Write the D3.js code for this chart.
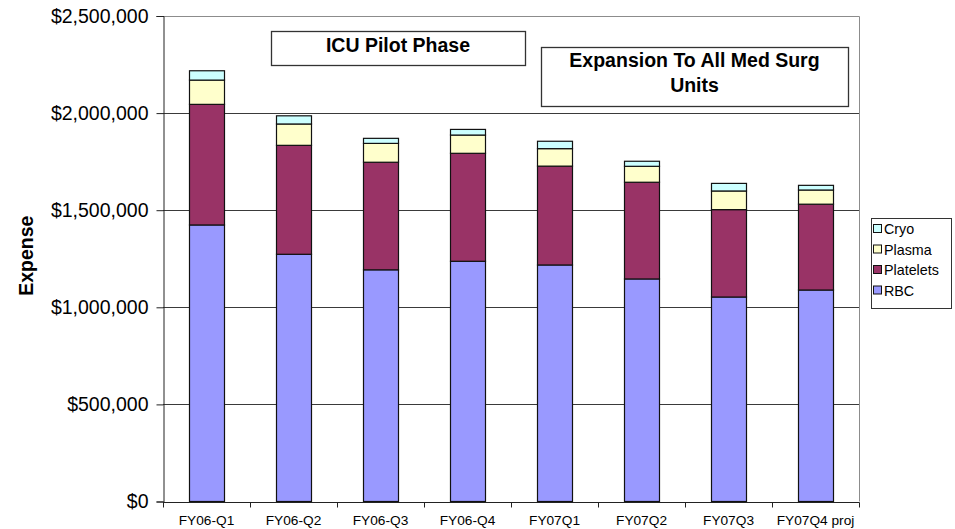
<!DOCTYPE html>
<html>
<head>
<meta charset="utf-8">
<script src="https://cdn.jsdelivr.net/npm/d3@7"></script>
<style>
  html, body { margin: 0; padding: 0; background: #fff; }
  svg { display: block; font-family: Arial, "Liberation Sans", sans-serif; }
</style>
</head>
<body>
<svg id="chart" width="955" height="529"></svg>
<script>
// Quarterly blood product expense, stacked by product type
const quarters = ["FY06-Q1", "FY06-Q2", "FY06-Q3", "FY06-Q4", "FY07Q1", "FY07Q2", "FY07Q3", "FY07Q4 proj"];
const rbc       = [1424000, 1273000, 1193000, 1237000, 1218000, 1146000, 1053000, 1089000];
const platelets = [ 621000,  561000,  554000,  556000,  509000,  498000,  450000,  442000];
const plasma    = [ 125000,  110000,   97000,   94000,   90000,   82000,   96000,   73000];
const cryo      = [  48000,   42000,   26000,   29000,   38000,   26000,   39000,   24000];
const seriesNames = ["RBC", "Platelets", "Plasma", "Cryo"];
const seriesColors = ["#9999FF", "#993366", "#FFFFCC", "#CCFFFF"];
const yTicks = [0, 500000, 1000000, 1500000, 2000000, 2500000];

const svg = d3.select("#chart");
const plot = { left: 163, right: 859, top: 16, bottom: 501.5 };

const x = d3.scaleBand()
  .domain(quarters)
  .range([plot.left, plot.right])
  .paddingInner(0.6)
  .paddingOuter(0.3);

const y = d3.scaleLinear()
  .domain([0, 2500000])
  .range([plot.bottom, plot.top]);

// Horizontal gridlines
svg.append("g")
  .selectAll("line")
  .data(yTicks.slice(1, -1))
  .join("line")
  .attr("x1", plot.left).attr("x2", plot.right)
  .attr("y1", d => Math.round(y(d)) + 0.5).attr("y2", d => Math.round(y(d)) + 0.5)
  .attr("stroke", "#3a3a3a").attr("stroke-width", 1);

// Plot-area frame (top and right edges)
svg.append("path")
  .attr("d", `M${plot.left},${Math.round(plot.top) + 0.5}H${plot.right + 0.5}V${plot.bottom}`)
  .attr("fill", "none").attr("stroke", "#8c8c8c").attr("stroke-width", 1);

// Stack the series
const rows = quarters.map((q, i) => ({
  quarter: q, RBC: rbc[i], Platelets: platelets[i], Plasma: plasma[i], Cryo: cryo[i]
}));
const stacked = d3.stack().keys(seriesNames)(rows);

svg.append("g")
  .selectAll("g")
  .data(stacked)
  .join("g")
  .attr("fill", (d, i) => seriesColors[i])
  .selectAll("rect")
  .data(d => d)
  .join("rect")
  .attr("x", d => Math.round(x(d.data.quarter)) + 0.5)
  .attr("width", Math.round(x.bandwidth()))
  .attr("y", d => y(d[1]))
  .attr("height", d => y(d[0]) - y(d[1]))
  .attr("stroke", "#111").attr("stroke-width", 1.2);

// Y axis
const yAxis = d3.axisLeft(y)
  .tickValues(yTicks)
  .tickFormat(d3.format("$,"))
  .tickSize(7)
  .tickPadding(8);
const gy = svg.append("g")
  .attr("transform", `translate(${plot.left + 0.5},0)`)
  .call(yAxis);
gy.select(".domain").attr("stroke", "#222");
gy.selectAll(".tick line").attr("stroke", "#222");
gy.selectAll(".tick text")
  .attr("fill", "#000")
  .style("font-size", "19.5px");

// X axis with ticks on category boundaries
const xAxis = d3.axisBottom(x).tickSize(0).tickPadding(13);
const gx = svg.append("g")
  .attr("transform", `translate(0,${Math.round(plot.bottom) + 0.5})`)
  .call(xAxis);
gx.select(".domain").remove();
gx.append("line")
  .attr("x1", plot.left).attr("x2", plot.right + 0.5)
  .attr("stroke", "#222");
const boundaries = quarters.map(q => x(q) - x.step() * x.paddingInner() / 2).concat([plot.right]);
gx.selectAll(".bound")
  .data(boundaries)
  .join("line")
  .attr("class", "bound")
  .attr("x1", d => Math.round(d) + 0.5).attr("x2", d => Math.round(d) + 0.5)
  .attr("y1", 0).attr("y2", 5)
  .attr("stroke", "#222");
gx.selectAll(".tick text")
  .attr("fill", "#000")
  .style("font-size", "13.7px");

// Y axis title
svg.append("text")
  .attr("transform", `translate(33,${(plot.top + plot.bottom) / 2 - 3}) rotate(-90)`)
  .attr("text-anchor", "middle")
  .style("font-size", "19.5px")
  .style("font-weight", "bold")
  .text("Expense");

// Phase annotation boxes
const notes = [
  { x: 271, y: 31, w: 254, h: 34, lines: ["ICU Pilot Phase"], baseline: 52 },
  { x: 541, y: 47, w: 307, h: 59, lines: ["Expansion To All Med Surg", "Units"], baseline: 67 }
];
const noteG = svg.append("g").selectAll("g").data(notes).join("g");
noteG.append("rect")
  .attr("x", d => d.x + 0.5).attr("y", d => d.y + 0.5)
  .attr("width", d => d.w).attr("height", d => d.h)
  .attr("fill", "#fff").attr("stroke", "#333").attr("stroke-width", 1.3);
noteG.each(function(d) {
  const t = d3.select(this).append("text")
    .attr("text-anchor", "middle")
    .style("font-size", "19.5px")
    .style("font-weight", "bold");
  d.lines.forEach((ln, i) => {
    t.append("tspan")
      .attr("x", d.x + d.w / 2)
      .attr("y", d.baseline + i * 25)
      .text(ln);
  });
});

// Legend (top entry drawn first: Cryo)
const legendOrder = seriesNames.map((n, i) => ({ name: n, color: seriesColors[i] })).reverse();
const lg = svg.append("g");
lg.append("rect")
  .attr("x", 871.5).attr("y", 218.5).attr("width", 80).attr("height", 90)
  .attr("fill", "#fff").attr("stroke", "#333");
const item = lg.selectAll("g.item")
  .data(legendOrder)
  .join("g")
  .attr("class", "item")
  .attr("transform", (d, i) => `translate(873,${229 + i * 20.5})`);
item.append("rect")
  .attr("x", 0.5).attr("y", -4.5).attr("width", 8).attr("height", 8)
  .attr("fill", d => d.color).attr("stroke", "#111");
item.append("text")
  .attr("x", 11).attr("y", 0).attr("dy", "0.35em")
  .style("font-size", "14.3px")
  .text(d => d.name);
</script>
</body>
</html>
